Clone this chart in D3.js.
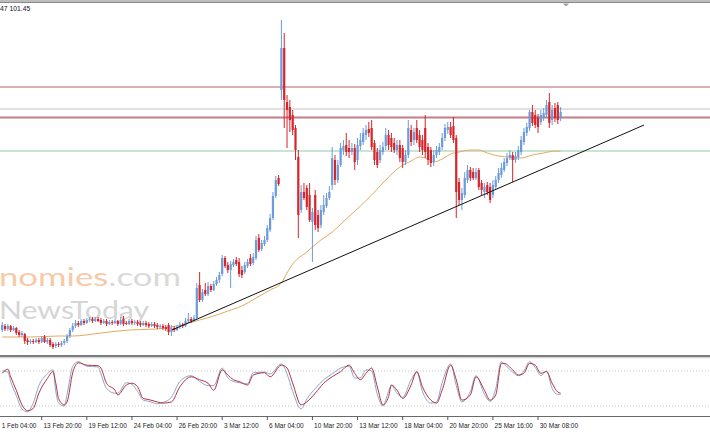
<!DOCTYPE html>
<html><head><meta charset="utf-8">
<script src="https://cdn.jsdelivr.net/npm/d3@7"></script>
<style>html,body{margin:0;padding:0;background:#fff;overflow:hidden}</style>
</head><body>
<svg id="c" width="710" height="434"></svg>
<script>
// ---- DATA (4H candles, price units) ----
const openP = [
99.30,99.34,99.31,99.34,99.30,99.32,99.28,99.25,99.26,99.20,
99.18,99.19,99.18,99.20,99.18,99.23,99.18,99.20,99.16,99.14,
99.16,99.15,99.17,99.19,99.24,99.30,99.34,99.37,99.35,99.39,
99.37,99.40,99.41,99.39,99.41,99.40,99.37,99.39,99.36,99.38,
99.37,99.39,99.36,99.41,99.37,99.36,99.39,99.37,99.38,99.37,
99.35,99.37,99.36,99.34,99.36,99.35,99.33,99.34,99.33,99.35,
99.28,99.32,99.30,99.33,99.35,99.34,99.39,99.41,99.39,99.42,
99.75,99.60,99.70,99.66,99.74,99.70,99.76,99.80,99.86,100.02,
99.95,99.90,99.95,100.00,99.98,99.90,99.88,99.94,100.02,99.97,
100.02,100.22,100.11,100.16,100.20,100.30,100.42,100.64,100.82,101.70,
102.12,101.58,101.53,101.45,101.32,101.03,100.50,100.68,100.72,100.65,
100.38,100.65,100.45,100.35,100.48,100.54,100.62,100.75,101.00,100.80,
100.95,101.10,101.15,101.12,101.08,101.12,101.00,101.14,101.18,101.25,
101.31,101.32,101.17,101.08,101.00,101.08,101.14,101.25,101.22,101.17,
101.10,101.15,101.12,100.98,101.05,101.30,101.20,101.32,101.25,101.20,
101.32,101.13,101.10,100.98,101.05,101.08,101.13,101.22,101.30,101.33,
101.34,101.22,100.78,100.60,100.65,100.80,100.90,100.88,100.82,100.90,
100.77,100.68,100.75,100.73,100.65,100.73,100.80,100.85,100.90,100.97,
101.02,101.05,101.00,101.03,101.08,101.18,101.27,101.32,101.48,101.45,
101.42,101.38,101.42,101.45,101.58,101.40,101.52,101.55,101.42];
const highP = [
99.38,99.36,99.36,99.35,99.34,99.33,99.30,99.29,99.27,99.22,
99.21,99.21,99.22,99.22,99.24,99.25,99.22,99.22,99.18,99.18,
99.18,99.19,99.21,99.26,99.32,99.37,99.40,99.39,99.41,99.41,
99.42,99.43,99.43,99.43,99.43,99.42,99.41,99.41,99.40,99.40,
99.41,99.40,99.43,99.44,99.39,99.41,99.41,99.40,99.40,99.39,
99.39,99.39,99.38,99.38,99.38,99.37,99.36,99.36,99.35,99.37,
99.35,99.34,99.35,99.38,99.37,99.42,99.47,99.43,99.45,99.77,
99.88,99.71,99.77,99.78,99.76,99.79,99.83,99.88,100.05,100.04,
99.98,99.99,100.01,100.03,100.02,99.94,99.98,100.01,100.06,100.07,
100.24,100.26,100.20,100.24,100.35,100.46,100.68,100.84,100.85,102.40,
102.27,101.65,101.60,101.50,101.35,101.10,100.75,100.77,100.75,100.77,
100.52,100.70,100.50,100.55,100.65,100.67,100.74,101.13,101.05,101.00,
101.17,101.20,101.27,101.20,101.17,101.16,101.22,101.27,101.32,101.35,
101.38,101.40,101.20,101.12,101.15,101.18,101.32,101.30,101.27,101.22,
101.20,101.20,101.15,101.10,101.40,101.35,101.32,101.40,101.30,101.25,
101.45,101.17,101.13,101.10,101.14,101.17,101.27,101.36,101.38,101.38,
101.43,101.25,100.82,100.72,100.88,100.95,100.93,100.92,100.92,100.92,
100.80,100.77,100.78,100.77,100.80,100.84,100.92,100.97,101.02,101.07,
101.10,101.08,101.08,101.14,101.24,101.32,101.37,101.50,101.55,101.50,
101.46,101.50,101.52,101.60,101.67,101.55,101.57,101.58,101.53];
const lowP = [
99.28,99.29,99.29,99.28,99.29,99.25,99.23,99.23,99.16,99.15,
99.16,99.16,99.17,99.16,99.17,99.17,99.16,99.13,99.11,99.12,
99.13,99.13,99.15,99.17,99.22,99.28,99.32,99.33,99.34,99.35,
99.36,99.38,99.37,99.38,99.38,99.35,99.36,99.34,99.35,99.35,
99.36,99.34,99.35,99.34,99.35,99.35,99.35,99.35,99.34,99.33,
99.34,99.33,99.32,99.33,99.32,99.31,99.31,99.30,99.29,99.25,
99.24,99.28,99.29,99.31,99.32,99.33,99.37,99.37,99.38,99.40,
99.58,99.58,99.64,99.64,99.68,99.69,99.74,99.77,99.84,99.92,
99.87,99.72,99.93,99.94,99.83,99.82,99.86,99.92,99.94,99.95,
100.00,100.08,100.09,100.14,100.18,100.28,100.40,100.62,100.74,101.60,
101.32,101.12,101.28,101.25,101.00,100.22,100.47,100.60,100.50,100.38,
99.98,100.30,100.28,100.32,100.45,100.52,100.60,100.70,100.75,100.77,
100.93,101.05,101.04,101.02,101.05,100.90,100.95,101.10,101.15,101.20,
101.23,101.10,100.95,100.92,100.97,101.05,101.10,101.10,101.08,101.07,
101.05,100.98,100.92,100.95,101.02,101.14,101.15,101.17,101.08,101.05,
101.02,100.95,100.93,100.94,101.02,101.05,101.10,101.19,101.26,101.22,
101.17,100.42,100.55,100.50,100.62,100.77,100.79,100.80,100.80,100.70,
100.65,100.62,100.65,100.57,100.62,100.70,100.77,100.82,100.88,100.94,
101.00,100.78,100.97,101.00,101.05,101.15,101.24,101.29,101.34,101.32,
101.27,101.35,101.39,101.42,101.32,101.35,101.38,101.36,101.39];
const closeP = [
99.35,99.31,99.34,99.30,99.32,99.27,99.25,99.27,99.19,99.18,
99.19,99.18,99.20,99.18,99.22,99.18,99.20,99.15,99.13,99.16,
99.15,99.17,99.19,99.24,99.30,99.34,99.37,99.35,99.39,99.37,
99.40,99.41,99.39,99.41,99.39,99.37,99.39,99.36,99.38,99.37,
99.39,99.36,99.40,99.36,99.36,99.39,99.37,99.38,99.36,99.35,
99.37,99.35,99.34,99.36,99.34,99.33,99.34,99.32,99.31,99.28,
99.32,99.30,99.33,99.35,99.34,99.39,99.41,99.39,99.42,99.72,
99.60,99.68,99.66,99.74,99.70,99.76,99.80,99.85,100.02,99.94,
99.90,99.96,99.98,99.96,99.86,99.85,99.95,99.98,99.96,100.03,
100.20,100.10,100.17,100.20,100.32,100.42,100.64,100.80,100.76,102.12,
101.60,101.50,101.40,101.30,101.10,100.45,100.68,100.62,100.53,100.40,
100.48,100.35,100.32,100.50,100.55,100.62,100.68,101.02,100.80,100.95,
101.12,101.14,101.08,101.08,101.12,100.98,101.15,101.20,101.27,101.30,
101.27,101.13,101.00,100.95,101.10,101.13,101.25,101.15,101.13,101.10,
101.15,101.02,100.98,101.05,101.32,101.18,101.28,101.20,101.13,101.10,
101.08,101.00,100.97,101.05,101.10,101.13,101.22,101.32,101.33,101.25,
101.20,100.68,100.60,100.67,100.82,100.90,100.82,100.82,100.88,100.73,
100.70,100.73,100.68,100.60,100.75,100.80,100.87,100.92,100.98,101.02,
101.05,101.00,101.04,101.10,101.20,101.28,101.33,101.48,101.37,101.35,
101.33,101.45,101.47,101.55,101.37,101.50,101.42,101.40,101.48];

// moving average, read at sample bars
const maIdx = [0,10,20,25,35,45,55,60,65,70,75,80,85,90,95,99,100,103,108,113,117,122,127,131,136,141,145,148,151,153,156,159,162,166,169,172,176,180,184,188,192,196,198];
const maVal = [99.23,99.23,99.24,99.24,99.27,99.30,99.31,99.33,99.36,99.40,99.44,99.49,99.54,99.62,99.70,99.77,99.82,99.96,100.08,100.20,100.28,100.41,100.54,100.65,100.80,100.93,100.99,101.03,101.01,100.98,101.01,101.06,101.08,101.10,101.10,101.07,101.04,101.03,101.02,101.05,101.07,101.09,101.09];

// stochastic oscillator, read at sample bars
const stochIdx = [0,2,3,5,7,9,11,13,16,18,19,20,22,23,25,27,30,34,35,37,40,41,44,46,48,50,52,55,57,60,63,67,70,73,75,78,80,82,84,87,89,93,95,99,101,103,106,108,111,114,117,120,123,125,127,129,131,133,135,137,138,140,142,145,147,149,152,154,156,159,161,163,166,168,171,173,175,177,178,181,183,185,187,189,191,193,195,197,198];
const stochMain = [80,78,62,38,15,10,25,55,75,82,45,25,20,40,88,96,88,87,75,50,42,42,60,57,45,30,28,24,26,35,62,72,62,55,55,85,68,62,60,58,77,78,75,92,75,45,15,32,50,65,75,85,88,68,68,82,80,40,20,45,55,42,35,65,78,45,25,27,60,92,55,27,45,72,40,28,50,96,92,78,72,80,96,86,72,80,50,40,40];
const stochSignal = [76,83,70,47,22,12,16,42,67,79,59,33,22,27,77,94,90,89,85,59,47,39,56,59,53,33,31,27,25,27,53,70,65,59,47,82,73,65,62,56,73,77,70,90,85,59,22,27,42,59,70,79,90,76,65,76,85,53,22,36,56,47,33,56,79,53,30,25,47,90,65,30,39,70,47,30,39,93,93,82,73,76,93,90,76,79,59,44,42];
const stochLevels = [80, 20];

// horizontal levels and trend line
const levelPrices = [101.73, 101.51, 101.425, 101.09];
const trendIdx = [60.2, 227.6];
const trendPrice = [99.30, 101.35];

// time axis
const xTickIdx = [-2,14,30,46,62,78,94,110,126,142,158,174,190];
const xTickLabels = ["1 Feb 04:00","13 Feb 20:00","19 Feb 12:00","24 Feb 04:00","26 Feb 20:00","3 Mar 12:00","6 Mar 04:00","10 Mar 20:00","13 Mar 12:00","18 Mar 04:00","20 Mar 20:00","25 Mar 16:00","30 Mar 08:00"];
const headerText = "47 101.45";

// ---- DRAWING ----
const W = 710, H = 434;
const svg = d3.select("#c");
const x = d3.scaleLinear().domain([0, 198]).range([2.2, 560.6]);
const y = d3.scaleLinear().domain([99.03, 102.57]).range([357, 3]);
const ys = d3.scaleLinear().domain([0, 100]).range([417.7, 359.3]);
const font = "'Liberation Sans', Arial, sans-serif";

svg.append("rect").attr("width", W).attr("height", H).attr("fill", "#fff");

// watermark
const wm1 = svg.append("text").attr("x", -1).attr("y", 285.5)
  .attr("font-family", "Lato, 'Open Sans', sans-serif").attr("font-size", 25.5)
  .attr("textLength", 182).attr("lengthAdjust", "spacingAndGlyphs");
wm1.append("tspan").attr("fill", "#f6c9a9").text("nomies");
wm1.append("tspan").attr("fill", "#d9d9d9").text(".com");
svg.append("text").attr("x", -1).attr("y", 318.5)
  .attr("font-family", "Lato, 'Open Sans', sans-serif").attr("font-size", 25.5)
  .attr("textLength", 150).attr("lengthAdjust", "spacingAndGlyphs")
  .attr("fill", "#d5d5d5").text("NewsToday");

// top frame
svg.append("rect").attr("x", 0).attr("y", 0).attr("width", W).attr("height", 2).attr("fill", "#bdbdbd");
svg.append("line").attr("x1", 0).attr("x2", W).attr("y1", 2.5).attr("y2", 2.5).attr("stroke", "#8a8a8a");
svg.append("path").attr("d", "M563,3.5 L569,3.5 L566,6.5 Z").attr("fill", "#9a9a9a");

// horizontal levels
const levelColors = ["#b0606c", "#c4c4c4", "#c27b88", "#8fcca3"];
const levelWidths = [1, 1, 2, 1];
svg.selectAll(".lvl").data(levelPrices).join("line").attr("class", "lvl")
  .attr("x1", 0).attr("x2", W)
  .attr("y1", d => y(d)).attr("y2", d => y(d))
  .attr("stroke", (d, i) => levelColors[i]).attr("stroke-width", (d, i) => levelWidths[i]);

// moving average
const maPts = maIdx.map((d, i) => [d, maVal[i]]);
svg.append("path").datum(maPts)
  .attr("d", d3.line().x(d => x(d[0])).y(d => y(d[1])).curve(d3.curveMonotoneX))
  .attr("fill", "none").attr("stroke", "#e3a95f").attr("stroke-width", 1);

// candles
const bull = "#6c9bdc", bear = "#d6262b";
const bars = openP.map((o, i) => ({i, o, h: highP[i], l: lowP[i], c: closeP[i]}));
const g = svg.append("g");
g.selectAll(".wick").data(bars).join("line").attr("class", "wick")
  .attr("x1", d => x(d.i)).attr("x2", d => x(d.i))
  .attr("y1", d => y(d.h)).attr("y2", d => y(d.l))
  .attr("stroke", d => d.c >= d.o ? bull : bear).attr("stroke-width", 1);
g.selectAll(".body").data(bars).join("rect").attr("class", "body")
  .attr("x", d => x(d.i) - 1.1).attr("width", 2.2)
  .attr("y", d => y(Math.max(d.o, d.c)))
  .attr("height", d => Math.max(1, Math.abs(y(d.o) - y(d.c))))
  .attr("fill", d => d.c >= d.o ? bull : bear);

// trend line
svg.append("line")
  .attr("x1", x(trendIdx[0])).attr("y1", y(trendPrice[0]))
  .attr("x2", x(trendIdx[1])).attr("y2", y(trendPrice[1]))
  .attr("stroke", "#111").attr("stroke-width", 1);

// header text
svg.append("text").attr("x", 0).attr("y", 10.5).attr("font-family", font)
  .attr("font-size", 6.8).attr("fill", "#111").text(headerText);

// separator between panels
svg.append("rect").attr("x", 0).attr("y", 355).attr("width", W).attr("height", 2.2).attr("fill", "#7d7d7d");
svg.append("line").attr("x1", 0).attr("x2", W).attr("y1", 357.8).attr("y2", 357.8).attr("stroke", "#d0d0d0");

// stochastic panel
svg.selectAll(".slvl").data(stochLevels).join("line").attr("class", "slvl")
  .attr("x1", 0).attr("x2", W).attr("y1", d => ys(d)).attr("y2", d => ys(d))
  .attr("stroke", "#c9c9c9").attr("stroke-dasharray", "1,2");
const sLine = d3.line().x(d => x(d[0])).y(d => ys(d[1])).curve(d3.curveMonotoneX);
svg.append("path").datum(stochIdx.map((d, i) => [d, stochMain[i]]))
  .attr("d", sLine).attr("fill", "none").attr("stroke", "#8ea6c8").attr("stroke-width", 1);
svg.append("path").datum(stochIdx.map((d, i) => [d, stochSignal[i]]))
  .attr("d", sLine).attr("fill", "none").attr("stroke", "#b2323f").attr("stroke-width", 1);

// time axis
svg.append("line").attr("x1", 0).attr("x2", W).attr("y1", 416.5).attr("y2", 416.5).attr("stroke", "#6a6a6a");
const ticks = xTickIdx.map((d, i) => ({d, label: xTickLabels[i]}));
svg.selectAll(".tk").data(ticks).join("line").attr("class", "tk")
  .attr("x1", t => x(t.d)).attr("x2", t => x(t.d)).attr("y1", 416.5).attr("y2", 420)
  .attr("stroke", "#555");
svg.selectAll(".tl").data(ticks).join("text").attr("class", "tl")
  .attr("x", t => Math.max(1.7, x(t.d) + 1.7)).attr("y", 427.5)
  .attr("font-family", font).attr("font-size", 6.5).attr("fill", "#222")
  .text(t => t.label);
</script>
</body></html>
